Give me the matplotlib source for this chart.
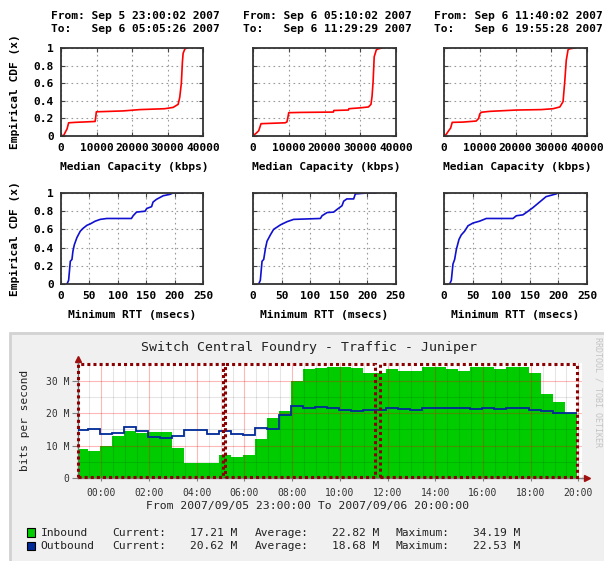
import matplotlib
matplotlib.use('Agg')
import matplotlib.pyplot as plt
import matplotlib.dates as mdates
from matplotlib.patches import Rectangle
import pandas as pd

# ---------------- data ----------------
col_from = ["Sep 5 23:00:02 2007", "Sep 6 05:10:02 2007", "Sep 6 11:40:02 2007"]
col_to = ["Sep 6 05:05:26 2007", "Sep 6 11:29:29 2007", "Sep 6 19:55:28 2007"]

cap1_x = [0, 800, 1300, 1700, 2150, 4000, 9600, 9800, 9950, 17500, 22200, 29200, 31600, 33000, 33450, 33900, 34200, 34400, 34900, 35500]
cap1_y = [0, 0.01, 0.05, 0.08, 0.15, 0.155, 0.165, 0.22, 0.275, 0.285, 0.30, 0.31, 0.325, 0.36, 0.44, 0.60, 0.84, 0.94, 0.99, 1.0]
cap2_x = [0, 1100, 1600, 2250, 9000, 9500, 9800, 10000, 13300, 22500, 22600, 26700, 26800, 30000, 32300, 33000, 33300, 33600, 33900, 34500, 35000, 36100]
cap2_y = [0, 0.04, 0.06, 0.14, 0.15, 0.16, 0.22, 0.265, 0.268, 0.272, 0.29, 0.295, 0.31, 0.32, 0.33, 0.36, 0.45, 0.62, 0.90, 0.98, 0.99, 1.0]
cap3_x = [0, 650, 1300, 1850, 2300, 5300, 9000, 9700, 10000, 10450, 12800, 20200, 27200, 30500, 32400, 33300, 33800, 34200, 34700, 35100, 36500]
cap3_y = [0, 0.02, 0.06, 0.09, 0.155, 0.158, 0.17, 0.20, 0.25, 0.27, 0.28, 0.295, 0.30, 0.31, 0.33, 0.39, 0.63, 0.86, 0.98, 0.99, 1.0]

rtt1_x = [10.5, 13.4, 16.4, 19.3, 21, 23.4, 28, 33.9, 38.5, 45.6, 51.4, 60, 69, 80.6, 124, 127, 133, 148, 151, 159.5, 162, 168, 180, 191.6, 197, 215]
rtt1_y = [0, 0.04, 0.25, 0.27, 0.36, 0.43, 0.51, 0.58, 0.61, 0.645, 0.66, 0.69, 0.71, 0.72, 0.72, 0.75, 0.79, 0.80, 0.83, 0.85, 0.90, 0.93, 0.97, 0.985, 1.0, 1.0]
rtt2_x = [9.9, 12.8, 15.8, 18.7, 21.6, 24.5, 30.4, 36, 48, 59.6, 71, 117.8, 120.7, 129.5, 141, 147, 155.6, 158.5, 164, 176, 178.9, 199, 215.6]
rtt2_y = [0, 0.04, 0.25, 0.27, 0.385, 0.47, 0.54, 0.60, 0.65, 0.685, 0.71, 0.72, 0.75, 0.785, 0.79, 0.82, 0.86, 0.91, 0.935, 0.935, 0.99, 1.0, 1.0]
rtt3_x = [9.9, 12.8, 15.7, 18.6, 21.6, 26.2, 30.3, 36, 42, 50.7, 62, 74, 120.6, 126.5, 138, 147, 155.6, 167, 178.5, 196, 199, 237]
rtt3_y = [0, 0.04, 0.22, 0.27, 0.38, 0.49, 0.54, 0.58, 0.64, 0.67, 0.69, 0.72, 0.72, 0.75, 0.76, 0.80, 0.84, 0.90, 0.96, 0.99, 1.0, 1.0]

cap_ticks = [0, 10000, 20000, 30000, 40000]
rtt_ticks = [0, 50, 100, 150, 200, 250]
cdf_ticks = [0, 0.2, 0.4, 0.6, 0.8, 1.0]
cdf_tick_labels = ["0", "0.2", "0.4", "0.6", "0.8", "1"]

# traffic (Mbit/s), half-hour consolidated steps
inbound = [8.9, 8.5, 10.0, 13.1, 14.5, 14.0, 14.3, 14.2, 9.4, 4.6, 4.7, 4.7, 7.1, 6.4, 7.0, 12.0, 18.6, 20.7, 29.8,
           33.4, 33.7, 34.1, 34.1, 33.9, 32.3, 32.4, 33.5, 33.0, 32.8, 34.0, 34.0, 33.5, 33.0, 34.0, 34.0, 33.5,
           34.19, 34.1, 32.2, 25.8, 23.3, 20.0]
outbound = [14.8, 15.2, 13.5, 13.8, 15.7, 14.4, 12.8, 12.4, 13.1, 14.8, 14.8, 13.5, 14.4, 13.5, 13.2, 15.5, 15.1, 19.3, 22.2,
            21.7, 21.9, 21.7, 21.0, 20.5, 20.9, 21.1, 21.7, 21.3, 20.8, 21.5, 21.5, 21.5, 21.6, 21.3, 21.5, 21.2,
            21.6, 21.6, 21.1, 20.7, 19.9, 20.1]
step_edges = ([pd.Timestamp("2007-09-05 23:00")]
              + list(pd.date_range("2007-09-05 23:27", periods=41, freq="30min"))
              + [pd.Timestamp("2007-09-06 19:56")])
windows = [("2007-09-05 23:00:02", "2007-09-06 05:05:26"),
           ("2007-09-06 05:10:02", "2007-09-06 11:29:29"),
           ("2007-09-06 11:40:02", "2007-09-06 19:55:28")]
graph_start = pd.Timestamp("2007-09-05 23:00")
legend_rows = [("Inbound", "17.21 M", "22.82 M", "34.19 M", "#00cc00"),
               ("Outbound", "20.62 M", "18.68 M", "22.53 M", "#002a97")]

# ---------------- layout ----------------
W, H = 604, 561
fig = plt.figure(figsize=(W / 100, H / 100), dpi=100)
fig.patch.set_facecolor("white")
MONO = "DejaVu Sans Mono"


def axes_px(l, t, r, b):
    return fig.add_axes([l / W, 1 - b / H, (r - l) / W, (b - t) / H])


def ftext(x, y, s, **kw):
    return fig.text(x / W, 1 - y / H, s, **kw)


col_left = [61, 253, 444]
col_right = [203, 396, 587]
rows = [(48, 136), (193, 284)]
cap_data = [(cap1_x, cap1_y), (cap2_x, cap2_y), (cap3_x, cap3_y)]
rtt_data = [(rtt1_x, rtt1_y), (rtt2_x, rtt2_y), (rtt3_x, rtt3_y)]
bold = dict(fontfamily=MONO, fontweight="bold", fontsize=8.1)

for c in range(3):
    ftext(col_left[c] - 10, 15.7, "From: " + col_from[c], ha="left", va="center", **bold)
    ftext(col_left[c] - 10, 29.0, "To:   " + col_to[c], ha="left", va="center", **bold)
    for r in range(2):
        t, b = rows[r]
        ax = axes_px(col_left[c], t, col_right[c], b)
        if r == 0:
            xs, ys = cap_data[c]
            ax.plot(xs, ys, color="#ff0000", lw=1.2)
            ax.set_xlim(0, 40000)
            ax.set_xticks(cap_ticks, labels=[str(v) for v in cap_ticks], **bold)
            ftext((col_left[c] + col_right[c]) / 2 + 2, 167.3, "Median Capacity (kbps)", ha="center", va="center", **bold)
        else:
            xs, ys = rtt_data[c]
            ax.plot(xs, ys, color="#1010d0", lw=1.2)
            ax.set_xlim(0, 250)
            ax.set_xticks(rtt_ticks, labels=[str(v) for v in rtt_ticks], **bold)
            ftext((col_left[c] + col_right[c]) / 2, 315.0, "Minimum RTT (msecs)", ha="center", va="center", **bold)
        ax.set_ylim(0, 1)
        if c == 0:
            ax.set_yticks(cdf_ticks, labels=cdf_tick_labels, **bold)
            ftext(15, (t + b) / 2, "Empirical CDF (x)", rotation=90, ha="center", va="center", **bold)
        else:
            ax.set_yticks(cdf_ticks)
            ax.tick_params(axis="y", labelleft=False)
        ax.grid(True, linestyle=(0, (1.5, 3)), color="#9a9a9a", lw=0.8)
        ax.tick_params(direction="in", length=3, width=0.8, top=True, right=True, color="#444444", pad=5)
        for sp in ax.spines.values():
            sp.set_linewidth(1.3)
            sp.set_color("#333333")

# ---------------- traffic graph ----------------
fig.add_artist(Rectangle((10 / W, -0.01), 1.0, (H - 333) / H + 0.01, transform=fig.transFigure,
                         fc="#f0f0f0", ec="#d2d2d2", lw=2, zorder=0))

L, R, T, B = 77.5, 582, 363, 478.3
pxh = 23.85
ax = axes_px(L, T, R, B)
ax.set_facecolor("white")
t0 = mdates.date2num(graph_start)
ax.set_xlim(t0, t0 + (R - L) / pxh / 24)
ax.set_ylim(0, (B - T) / 3.26)

edges = mdates.date2num(step_edges)
ax.stairs(inbound, edges, fill=True, color="#00cc00", zorder=2)
ax.stairs(outbound, edges, baseline=None, color="#002a97", lw=1.3, zorder=4)

for s, e in windows:
    x0 = mdates.date2num(pd.Timestamp(s))
    x1 = mdates.date2num(pd.Timestamp(e))
    ax.add_patch(Rectangle((x0, 0.3), x1 - x0, 34.7, fill=False, ec="#8b0000", lw=2.2,
                           linestyle=(0, (1, 1)), zorder=5, clip_on=False))

ax.xaxis.set_major_locator(mdates.HourLocator(byhour=range(0, 24, 2)))
ax.xaxis.set_minor_locator(mdates.MinuteLocator(byminute=[0, 30]))
ax.xaxis.set_major_formatter(mdates.DateFormatter("%H:%M"))
ax.set_yticks([0, 10, 20, 30], labels=["0", "10 M", "20 M", "30 M"])
ax.set_yticks([5, 15, 25], minor=True)
ax.set_axisbelow(False)
ax.grid(True, which="minor", color="black", alpha=0.10, lw=0.8)
ax.grid(True, which="major", color="red", alpha=0.28, lw=0.8)
ax.tick_params(axis="both", which="minor", length=0)
ax.tick_params(axis="y", which="major", length=4, color="#808080", pad=2, labelsize=7, labelfontfamily=MONO,
               labelcolor="#333333")
ax.tick_params(axis="x", which="major", length=2, color="#808080", pad=5, labelsize=7, labelfontfamily=MONO,
               labelcolor="#333333")
for name in ["top", "right"]:
    ax.spines[name].set_visible(False)
for name in ["left", "bottom"]:
    ax.spines[name].set_color("#808080")
    ax.spines[name].set_linewidth(1)
ax.plot([0, 0], [1, 1.03], transform=ax.transAxes, color="#808080", lw=1, clip_on=False)
ax.plot([1, 1.008], [0, 0], transform=ax.transAxes, color="#808080", lw=1, clip_on=False)
ax.plot([0], [1.035], marker="^", ms=4, color="#a01010", transform=ax.transAxes, clip_on=False)
ax.plot([1.01], [0], marker=">", ms=4, color="#a01010", transform=ax.transAxes, clip_on=False)

ftext(309, 347.3, "Switch Central Foundry - Traffic - Juniper", ha="center", va="center",
      fontsize=9.5, family=MONO, color="#222222")
ftext(25, 420, "bits per second", rotation=90, ha="center", va="center", fontsize=8, family=MONO, color="#222222")
ftext(598, 392, "RRDTOOL / TOBI OETIKER", rotation=270, ha="center", va="center", fontsize=6,
      family=MONO, color="#c4c4c4")
ftext(308, 506, "From 2007/09/05 23:00:00 To 2007/09/06 20:00:00", ha="center", va="center",
      fontsize=8.2, family=MONO, color="#222222")

for i, (name, cur, avg, mx, colr) in enumerate(legend_rows):
    y = 532.5 + i * 13.5
    fig.add_artist(Rectangle((26.7 / W, 1 - (y + 4.2) / H), 8 / W, 8.4 / H, transform=fig.transFigure,
                             fc=colr, ec="black", lw=0.8))
    kw = dict(ha="left", va="center", fontsize=8.1, family=MONO, color="#222222")
    ftext(40.7, y, name, **kw)
    ftext(112.7, y, "Current:", **kw)
    ftext(189.6, y, cur, **kw)
    ftext(255, y, "Average:", **kw)
    ftext(331.5, y, avg, **kw)
    ftext(396, y, "Maximum:", **kw)
    ftext(473, y, mx, **kw)

fig.savefig("out.png", dpi=100, facecolor=fig.get_facecolor())
